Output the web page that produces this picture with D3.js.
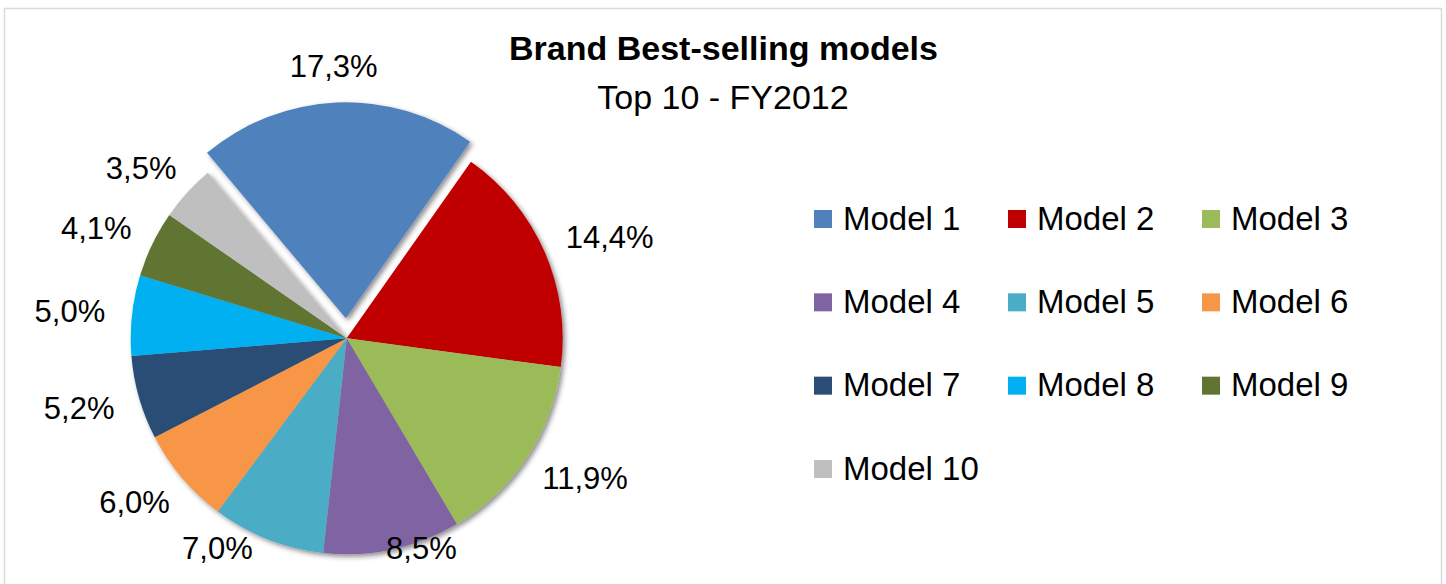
<!DOCTYPE html>
<html>
<head>
<meta charset="utf-8">
<script src="https://cdn.jsdelivr.net/npm/d3@7"></script>
<style>
  html, body { margin: 0; padding: 0; background: #fff; }
  svg { display: block; }
  text { font-family: "Liberation Sans", Arial, sans-serif; fill: #000; }
</style>
</head>
<body>
<svg id="chart" width="1446" height="584"></svg>
<script>
// Top 10 models, share of brand sales in FY2012 (%)
const models = ["Model 1", "Model 2", "Model 3", "Model 4", "Model 5",
                "Model 6", "Model 7", "Model 8", "Model 9", "Model 10"];
const shares = [17.3, 14.4, 11.9, 8.5, 7.0, 6.0, 5.2, 5.0, 4.1, 3.5];
const colors = ["#4F81BD", "#C00000", "#9BBB59", "#8064A2", "#4BACC6",
                "#F79646", "#2C4D75", "#00B0F0", "#607530", "#BFBFBF"];
const titleText = "Brand Best-selling models";
const subtitleText = "Top 10 - FY2012";
const explodedIndex = 0;

const svg = d3.select("#chart");

// chart frame
svg.append("rect")
  .attr("x", 4.5).attr("y", 8.5)
  .attr("width", 1437).attr("height", 600)
  .attr("fill", "#fff").attr("stroke", "#d9d9d9").attr("stroke-width", 1.5);

// soft outer shadow for the slices
const defs = svg.append("defs");
const f = defs.append("filter").attr("id", "shadow")
  .attr("x", "-20%").attr("y", "-20%").attr("width", "140%").attr("height", "140%");
f.append("feDropShadow")
  .attr("dx", 2.5).attr("dy", 2.5).attr("stdDeviation", 2.5)
  .attr("flood-color", "#000").attr("flood-opacity", 0.45);

// titles
svg.append("text")
  .attr("x", 723.5).attr("y", 60)
  .attr("text-anchor", "middle")
  .style("font-weight", "bold").style("font-size", "34px")
  .text(titleText);
svg.append("text")
  .attr("x", 723).attr("y", 109)
  .attr("text-anchor", "middle")
  .style("font-size", "34px")
  .text(subtitleText);

// pie
const cx = 346.7, cy = 338.3, r = 216, explode = 20;
const startA = -40 * Math.PI / 180;
const pie = d3.pie().sort(null).value(d => d)
  .startAngle(startA).endAngle(startA + 2 * Math.PI);
const arcs = pie(shares);
const arc = d3.arc().innerRadius(0).outerRadius(r);
const color = d3.scaleOrdinal().domain(models).range(colors);

const offsetOf = (d, i) => {
  if (i !== explodedIndex) return [0, 0];
  const a = (d.startAngle + d.endAngle) / 2;
  return [explode * Math.sin(a), -explode * Math.cos(a)];
};

const pieG = svg.append("g")
  .attr("transform", `translate(${cx},${cy})`)
  .attr("filter", "url(#shadow)");
pieG.selectAll("path")
  .data(arcs)
  .join("path")
  .attr("d", arc)
  .attr("transform", (d, i) => { const o = offsetOf(d, i); return `translate(${o[0]},${o[1]})`; })
  .attr("fill", (d, i) => color(models[i]));

// data labels, outside end
const labelSize = 31, capH = 0.716 * labelSize;
const labelR = 243, halfH = 10, maxCenterY = 548;
const fmt = v => d3.format(".1f")(v).replace(".", ",") + "%";
const labels = svg.append("g");
arcs.forEach((d, i) => {
  const t = labels.append("text")
    .attr("text-anchor", "middle")
    .style("font-size", labelSize + "px")
    .text(fmt(d.data));
  const halfW = t.node().getComputedTextLength() / 2;
  const a = (d.startAngle + d.endAngle) / 2;
  const ux = Math.sin(a), uy = -Math.cos(a);
  const o = offsetOf(d, i);
  let x = cx + o[0] + ux * (labelR + halfW);
  let y = cy + o[1] + uy * (labelR + halfH);
  if (y > maxCenterY) {           // keep labels inside the chart area
    x = cx + (x - cx) * 1.27;
    y = maxCenterY;
  }
  t.attr("x", x).attr("y", y + capH / 2);
});

// legend: 3 columns
const legendSize = 33, legCap = 0.716 * legendSize;
const colX = d3.scalePoint().domain([0, 1, 2]).range([814, 1202]);
const rowY = d3.scalePoint().domain([0, 1, 2, 3]).range([218, 468]);
const leg = svg.append("g");
models.forEach((m, i) => {
  const x = colX(i % 3), y = rowY(Math.floor(i / 3));
  leg.append("rect")
    .attr("x", x).attr("y", y - 8)
    .attr("width", 18).attr("height", 18)
    .attr("fill", color(m));
  leg.append("text")
    .attr("x", x + 29).attr("y", y + legCap / 2)
    .style("font-size", legendSize + "px")
    .text(m);
});
</script>
</body>
</html>
